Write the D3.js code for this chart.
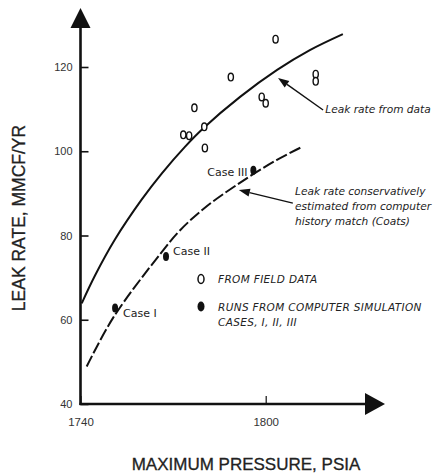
<!DOCTYPE html>
<html><head><meta charset="utf-8">
<script src="https://cdn.jsdelivr.net/npm/d3@7"></script>
<style>
html,body{margin:0;padding:0;background:#fff;}
svg{display:block;}
</style></head>
<body>
<svg id="chart" width="441" height="475"></svg>
<script>
// ---- data ----
const xTicks = [1740, 1800];
const yTicks = [40, 60, 80, 100, 120];
const xTitle = "MAXIMUM PRESSURE, PSIA";
const yTitle = "LEAK RATE, MMCF/YR";

// field data (open symbols)
const fieldP = [1803.2, 1788.7, 1816.2, 1816.2, 1776.9, 1798.7, 1800.0, 1780.1, 1773.3, 1775.2, 1780.3];
const fieldV = [126.6, 117.6, 118.3, 116.6, 110.3, 112.9, 111.4, 105.8, 103.9, 103.7, 100.8];

// computer simulation runs (filled symbols)
const caseNames = ["Case I", "Case II", "Case III"];
const caseP = [1751.2, 1767.7, 1796.0];
const caseV = [62.8, 75.0, 95.5];

// leak rate from data (solid curve)
const dataCurveP = [1740.4, 1744.7, 1751.2, 1759.8, 1766.3, 1773.9, 1779.7, 1791.7, 1803.7, 1814.3, 1825.0];
const dataCurveV = [63.9, 70.5, 79.1, 88.5, 94.7, 101.1, 105.4, 112.9, 119.3, 124.0, 127.8];

// leak rate from computer history match (dashed curve)
const simCurveP = [1742.0, 1750.6, 1765.8, 1772.2, 1780.3, 1790.6, 1803.5, 1811.7];
const simCurveV = [48.9, 60.5, 75.6, 81.2, 86.6, 92.0, 97.9, 101.0];

const legendLabels = ["FROM FIELD DATA", "RUNS FROM COMPUTER SIMULATION", "CASES, I, II, III"];
const noteData = ["Leak rate from data"];
const noteSim = ["Leak rate conservatively", "estimated from computer", "history match (Coats)"];

// ---- drawing ----
const svg = d3.select("#chart");
const ink = "#111";
const x = d3.scaleLinear().domain([1740, 1800]).range([80.5, 265.7]);
const y = d3.scaleLinear().domain([40, 120]).range([404, 67]);

svg.append("rect").attr("width", 441).attr("height", 475).attr("fill", "#fff");

// axes
const yAxis = svg.append("g").attr("transform", `translate(${x(1740)},0)`)
  .call(d3.axisLeft(y).tickValues(yTicks).tickSize(-8).tickPadding(8).tickFormat(d3.format("d")));
yAxis.select(".domain").remove();
yAxis.selectAll(".tick line").attr("stroke", ink).attr("stroke-width", 1.6);
yAxis.selectAll(".tick text").attr("font-family", "Liberation Sans, Arial, sans-serif")
  .attr("font-size", 11).attr("fill", "#333");

const xAxis = svg.append("g").attr("transform", `translate(0,${y(40)})`)
  .call(d3.axisBottom(x).tickValues(xTicks).tickSize(-8).tickPadding(14).tickFormat(d3.format("d")));
xAxis.select(".domain").remove();
xAxis.selectAll(".tick line").attr("stroke", ink).attr("stroke-width", 1.2);
xAxis.selectAll(".tick text").attr("font-family", "Liberation Sans, Arial, sans-serif")
  .attr("font-size", 11.5).attr("fill", "#333");

// axis lines with arrowheads
const x0 = x(1740), y0 = y(40);
svg.append("line").attr("x1", x0).attr("y1", y0 + 1).attr("x2", x0).attr("y2", 26)
  .attr("stroke", ink).attr("stroke-width", 2.6);
svg.append("path").attr("d", `M${x0},8 L${x0 - 10},28 L${x0 + 10},28 Z`).attr("fill", ink);
svg.append("line").attr("x1", x0 - 1).attr("y1", y0).attr("x2", 367).attr("y2", y0)
  .attr("stroke", ink).attr("stroke-width", 2.6);
svg.append("path").attr("d", `M385,${y0} L365,${y0 - 11} L365,${y0 + 11} Z`).attr("fill", ink);

// axis titles
svg.append("text").attr("x", 246).attr("y", 470).attr("text-anchor", "middle")
  .attr("font-family", "Liberation Sans, Arial, sans-serif").attr("font-size", 17)
  .attr("fill", "#222").attr("stroke", "#222").attr("stroke-width", 0.3).text(xTitle);
svg.append("text").attr("transform", "translate(25,218) rotate(-90)").attr("text-anchor", "middle")
  .attr("font-family", "Liberation Sans, Arial, sans-serif").attr("font-size", 17.5)
  .attr("fill", "#222").attr("stroke", "#222").attr("stroke-width", 0.3).text(yTitle);

// curves
const line = d3.line().x(d => x(d[0])).y(d => y(d[1])).curve(d3.curveCatmullRom.alpha(0.5));
svg.append("path").datum(dataCurveP.map((p, i) => [p, dataCurveV[i]]))
  .attr("d", line).attr("fill", "none").attr("stroke", ink).attr("stroke-width", 2);
svg.append("path").datum(simCurveP.map((p, i) => [p, simCurveV[i]]))
  .attr("d", line).attr("fill", "none").attr("stroke", ink).attr("stroke-width", 2)
  .attr("stroke-dasharray", "12,3");

// field data symbols
svg.append("g").selectAll("ellipse").data(fieldP.map((p, i) => [p, fieldV[i]])).join("ellipse")
  .attr("cx", d => x(d[0])).attr("cy", d => y(d[1])).attr("rx", 2.6).attr("ry", 3.8)
  .attr("fill", "#fff").attr("stroke", ink).attr("stroke-width", 1.4);

// simulation symbols
svg.append("g").selectAll("ellipse").data(caseP.map((p, i) => [p, caseV[i]])).join("ellipse")
  .attr("cx", d => x(d[0])).attr("cy", d => y(d[1])).attr("rx", 3).attr("ry", 4.5).attr("fill", ink);

// case labels
const caseOffsets = [[8, 9], [7, -2], [-46, 6]];
svg.append("g").selectAll("text").data(caseNames).join("text")
  .attr("x", (d, i) => x(caseP[i]) + caseOffsets[i][0])
  .attr("y", (d, i) => y(caseV[i]) + caseOffsets[i][1])
  .attr("font-family", "DejaVu Sans, sans-serif").attr("font-size", 11).attr("fill", "#222")
  .text(d => d);

// legend
const lg = svg.append("g").attr("font-family", "DejaVu Sans, sans-serif").attr("font-style", "italic")
  .attr("font-size", 10.5).attr("letter-spacing", 0.35).attr("fill", "#222");
lg.append("ellipse").attr("cx", 201).attr("cy", 279).attr("rx", 3).attr("ry", 4.5)
  .attr("fill", "#fff").attr("stroke", ink).attr("stroke-width", 1.5);
lg.append("ellipse").attr("cx", 201).attr("cy", 306.5).attr("rx", 3.5).attr("ry", 5).attr("fill", ink);
lg.append("text").attr("x", 218).attr("y", 282.5).text(legendLabels[0]);
lg.append("text").attr("x", 218).attr("y", 310.5).text(legendLabels[1]);
lg.append("text").attr("x", 218).attr("y", 325.5).text(legendLabels[2]);

// annotations
const note = svg.append("g").attr("font-family", "DejaVu Sans, sans-serif").attr("font-style", "italic")
  .attr("font-size", 10.6).attr("fill", "#222");
function arrow(tx, ty, fx, fy) {
  const ang = Math.atan2(ty - fy, tx - fx), L = 11, W = 4;
  const bx = tx - L * Math.cos(ang), by = ty - L * Math.sin(ang);
  svg.append("line").attr("x1", fx).attr("y1", fy).attr("x2", bx).attr("y2", by)
    .attr("stroke", ink).attr("stroke-width", 1.4);
  svg.append("path").attr("d",
    `M${tx},${ty} L${bx + W * Math.sin(ang)},${by - W * Math.cos(ang)} L${bx - W * Math.sin(ang)},${by + W * Math.cos(ang)} Z`)
    .attr("fill", ink);
}
arrow(x(1804.0), y(117.4), x(1818.6), y(109.8));
arrow(x(1791.3), y(90.8), x(1808.8), y(87.7));
note.append("text").attr("x", x(1819.3)).attr("y", y(109.0)).text(noteData[0]);
noteSim.forEach((t, i) => note.append("text").attr("x", 295).attr("y", 195 + i * 15).text(t));
</script>
</body></html>
